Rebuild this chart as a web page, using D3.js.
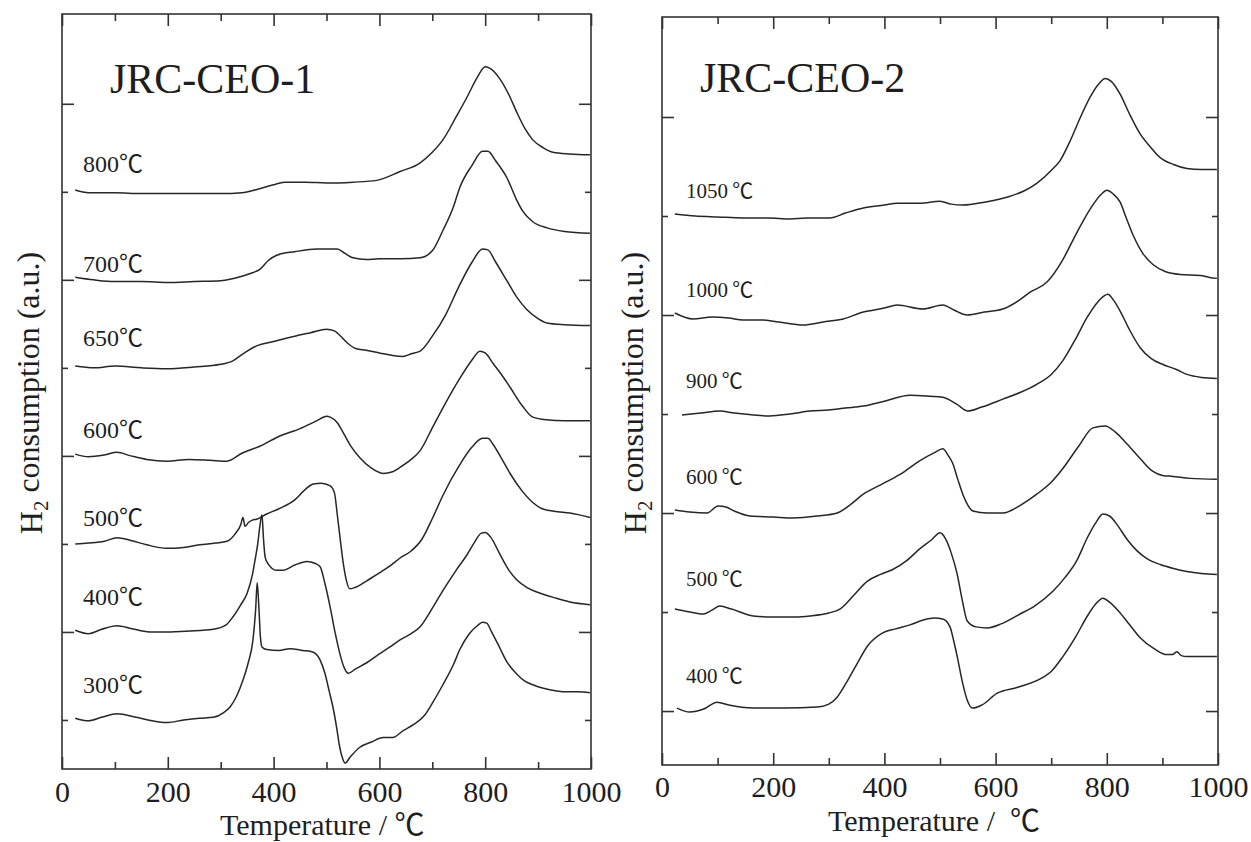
<!DOCTYPE html>
<meta charset="utf-8">
<script src="https://d3js.org/d3.v7.min.js"></script>
<style>
body { margin: 0; background: #fff; }
svg text { font-family: "Liberation Serif", "Noto Sans CJK JP", serif; fill: #1e1e1e; }
.frame { fill: none; stroke: #333; stroke-width: 1.6px; }
.tick line { stroke: #333; stroke-width: 1.6px; }
.trace { fill: none; stroke: #262626; stroke-width: 1.5px; stroke-linejoin: round; }
</style>
<body>
<svg id="svg" width="1251" height="842"></svg>
<script>
// x tick labels (both panels)
const xMajor = [0, 200, 400, 600, 800, 1000];
const xMinor = [100, 300, 500, 700, 900];

// JRC-CEO-1 : [temperature, offset above the trace's own baseline]
const ceo1Labels = ["300℃", "400℃", "500℃", "600℃", "650℃", "700℃", "800℃"];
const ceo1_300 = [[25,0.02],[50,-0.01],[75,0.03],[104,0.07],[140,0.03],[170,-0.01],[198,-0.03],[230,0.0],[260,0.02],[286,0.03],[305,0.08],[318,0.15],[330,0.27],[342,0.45],[352,0.65],[361,0.91],[366,1.25],[369,1.56],[372,1.3],[375,0.95],[378,0.83],[387,0.8],[410,0.79],[431,0.81],[455,0.79],[475,0.77],[488,0.68],[497,0.53],[505,0.33],[512,0.15],[519,-0.08],[525,-0.31],[530,-0.43],[535,-0.49],[545,-0.42],[563,-0.31],[585,-0.25],[607,-0.2],[625,-0.2],[645,-0.12],[665,-0.05],[685,0.05],[701,0.2],[720,0.4],[740,0.63],[752,0.8],[770,0.98],[785,1.07],[795,1.11],[803,1.1],[812,1.0],[825,0.85],[841,0.66],[860,0.52],[875,0.44],[890,0.4],[910,0.36],[935,0.33],[955,0.32],[975,0.32],[998,0.31]];
const ceo1_400 = [[25,0.02],[50,-0.02],[75,0.03],[104,0.07],[130,0.04],[165,0.0],[198,0.0],[240,0.01],[286,0.03],[310,0.08],[323,0.17],[337,0.3],[350,0.44],[360,0.65],[365,0.82],[370,1.0],[374,1.2],[378,1.33],[381,1.05],[384,0.85],[390,0.77],[405,0.7],[418,0.7],[440,0.76],[463,0.8],[478,0.78],[488,0.74],[497,0.55],[507,0.28],[516,0.0],[525,-0.24],[533,-0.4],[541,-0.47],[555,-0.42],[576,-0.35],[600,-0.25],[620,-0.17],[639,-0.09],[660,-0.02],[677,0.06],[701,0.28],[720,0.47],[745,0.7],[766,0.88],[780,1.02],[792,1.12],[800,1.13],[810,1.08],[828,0.88],[845,0.7],[860,0.59],[880,0.5],[904,0.44],[930,0.39],[960,0.34],[998,0.31]];
const ceo1_500 = [[25,0.0],[50,0.01],[80,0.03],[104,0.07],[130,0.04],[160,-0.01],[198,-0.05],[230,-0.04],[260,-0.01],[290,0.01],[312,0.03],[328,0.12],[338,0.22],[342,0.3],[346,0.2],[352,0.24],[360,0.27],[368,0.28],[387,0.34],[410,0.4],[440,0.5],[460,0.62],[475,0.68],[490,0.69],[507,0.66],[515,0.58],[521,0.3],[527,0.0],[531,-0.19],[537,-0.4],[544,-0.51],[560,-0.48],[576,-0.42],[600,-0.33],[620,-0.25],[639,-0.16],[660,-0.08],[680,0.05],[701,0.3],[720,0.55],[752,0.9],[775,1.1],[795,1.2],[805,1.2],[815,1.13],[830,0.98],[847,0.8],[870,0.6],[890,0.47],[904,0.41],[930,0.37],[960,0.35],[998,0.3]];
const ceo1_600 = [[25,0.02],[50,-0.01],[80,0.01],[104,0.04],[130,0.0],[160,-0.04],[198,-0.06],[240,-0.04],[280,-0.05],[312,-0.06],[340,0.03],[374,0.11],[410,0.22],[450,0.31],[482,0.4],[500,0.45],[507,0.44],[520,0.38],[531,0.27],[545,0.12],[563,-0.02],[585,-0.14],[607,-0.2],[625,-0.18],[639,-0.13],[660,-0.04],[677,0.06],[701,0.33],[725,0.6],[752,0.88],[775,1.09],[790,1.19],[800,1.17],[815,1.05],[830,0.93],[847,0.78],[870,0.57],[890,0.44],[915,0.41],[950,0.4],[998,0.4]];
const ceo1_650 = [[25,0.02],[60,0.0],[100,0.02],[150,0.0],[198,-0.01],[250,0.01],[300,0.04],[323,0.08],[345,0.17],[368,0.25],[400,0.3],[440,0.36],[470,0.4],[500,0.44],[515,0.42],[525,0.37],[540,0.28],[555,0.22],[575,0.2],[600,0.17],[625,0.14],[645,0.13],[660,0.16],[677,0.19],[700,0.36],[725,0.6],[750,0.92],[775,1.2],[795,1.35],[805,1.34],[820,1.2],[841,0.99],[860,0.8],[879,0.66],[900,0.56],[917,0.51],[950,0.49],[998,0.48]];
const ceo1_700 = [[25,0.03],[60,0.0],[100,-0.02],[150,-0.02],[200,-0.03],[250,-0.02],[300,-0.01],[340,0.04],[360,0.08],[374,0.12],[390,0.22],[406,0.28],[440,0.32],[482,0.35],[520,0.35],[535,0.3],[550,0.25],[575,0.23],[600,0.24],[640,0.24],[677,0.25],[700,0.33],[720,0.56],[740,0.83],[752,1.05],[775,1.3],[795,1.46],[805,1.46],[820,1.35],[841,1.16],[860,0.9],[871,0.78],[890,0.66],[917,0.59],[950,0.55],[998,0.53]];
const ceo1_800 = [[25,0.02],[50,-0.01],[100,-0.01],[150,-0.02],[200,-0.02],[250,-0.02],[300,-0.02],[340,-0.01],[370,0.03],[400,0.08],[420,0.11],[460,0.11],[500,0.1],[550,0.11],[595,0.13],[639,0.23],[677,0.33],[700,0.45],[720,0.59],[745,0.85],[766,1.08],[785,1.3],[800,1.42],[810,1.4],[828,1.28],[845,1.1],[860,0.9],[875,0.72],[890,0.59],[910,0.5],[928,0.45],[960,0.43],[998,0.42]];

// JRC-CEO-2
const ceo2Labels = ["400\u2009℃", "500\u2009℃", "600\u2009℃", "900\u2009℃", "1000\u2009℃", "1050\u2009℃"];
const ceo2_400 = [[27,0.03],[50,-0.01],[75,0.02],[99,0.09],[120,0.06],[164,0.03],[220,0.03],[279,0.04],[300,0.07],[315,0.14],[333,0.3],[351,0.48],[370,0.66],[397,0.79],[420,0.83],[446,0.87],[470,0.92],[490,0.94],[505,0.93],[518,0.85],[525,0.7],[531,0.55],[540,0.3],[549,0.11],[559,0.03],[575,0.06],[603,0.18],[640,0.24],[685,0.34],[700,0.4],[721,0.55],[745,0.76],[764,0.95],[780,1.08],[793,1.14],[805,1.1],[824,0.99],[840,0.88],[860,0.74],[885,0.63],[908,0.57],[918,0.57],[926,0.6],[934,0.56],[944,0.55],[970,0.55],[998,0.55]];
const ceo2_500 = [[23,0.03],[50,0.0],[74,-0.02],[90,0.02],[104,0.06],[125,0.03],[164,-0.04],[200,-0.05],[240,-0.05],[266,-0.04],[300,-0.01],[320,0.03],[345,0.17],[369,0.31],[393,0.38],[415,0.43],[440,0.52],[464,0.64],[485,0.73],[500,0.8],[510,0.74],[520,0.6],[531,0.38],[540,0.12],[549,-0.09],[565,-0.15],[585,-0.16],[610,-0.12],[644,-0.02],[670,0.06],[703,0.21],[725,0.35],[746,0.52],[765,0.75],[780,0.9],[793,0.99],[805,0.97],[820,0.87],[837,0.73],[854,0.62],[875,0.53],[896,0.48],[920,0.44],[944,0.41],[970,0.39],[998,0.38]];
const ceo2_600 = [[23,0.03],[50,0.01],[81,0.0],[101,0.07],[115,0.06],[130,0.02],[158,-0.03],[200,-0.04],[236,-0.05],[280,-0.03],[315,0.0],[340,0.09],[362,0.19],[395,0.29],[428,0.39],[464,0.53],[490,0.61],[505,0.65],[515,0.58],[523,0.5],[532,0.34],[541,0.19],[550,0.08],[559,0.02],[585,0.0],[613,0.0],[645,0.08],[674,0.19],[700,0.31],[721,0.45],[750,0.68],[775,0.86],[797,0.88],[815,0.82],[836,0.7],[860,0.55],[883,0.42],[900,0.38],[919,0.37],[950,0.35],[998,0.34]];
const ceo2_900 = [[36,-0.01],[70,0.01],[104,0.03],[130,0.01],[165,-0.01],[194,-0.02],[230,0.0],[266,0.03],[300,0.04],[330,0.06],[362,0.08],[400,0.13],[446,0.19],[482,0.18],[505,0.17],[530,0.1],[550,0.03],[575,0.07],[613,0.15],[645,0.22],[674,0.3],[700,0.4],[721,0.54],[745,0.77],[764,0.97],[785,1.14],[802,1.21],[812,1.15],[824,1.04],[840,0.86],[860,0.67],[880,0.56],[901,0.5],[925,0.45],[944,0.4],[970,0.37],[998,0.36]];
const ceo2_1000 = [[23,0.02],[56,-0.04],[90,-0.02],[120,-0.03],[146,-0.05],[180,-0.05],[210,-0.07],[254,-0.1],[290,-0.07],[326,-0.04],[362,0.03],[400,0.07],[423,0.1],[469,0.06],[505,0.1],[525,0.05],[549,0.0],[580,0.03],[613,0.06],[640,0.14],[662,0.23],[692,0.33],[720,0.55],[745,0.82],[770,1.07],[790,1.22],[800,1.26],[812,1.22],[824,1.14],[835,0.98],[847,0.81],[865,0.62],[883,0.51],[905,0.44],[932,0.41],[968,0.4],[985,0.38],[998,0.37]];
const ceo2_1050 = [[23,0.02],[60,0.0],[100,-0.01],[146,-0.02],[190,-0.02],[230,-0.03],[260,-0.02],[302,-0.02],[330,0.03],[362,0.08],[400,0.11],[423,0.13],[464,0.13],[500,0.15],[520,0.12],[541,0.11],[580,0.14],[626,0.2],[650,0.25],[674,0.33],[700,0.46],[716,0.56],[735,0.77],[752,0.99],[770,1.2],[785,1.33],[797,1.39],[808,1.36],[824,1.23],[840,1.04],[860,0.83],[878,0.7],[896,0.59],[920,0.52],[944,0.48],[970,0.47],[998,0.47]];

const panels = [
  { title: "JRC-CEO-1", labels: ceo1Labels,
    series: [ceo1_300, ceo1_400, ceo1_500, ceo1_600, ceo1_650, ceo1_700, ceo1_800],
    left: 62, right: 591, top: 14, bottom: 769, yDomain: [0.443, 9.02],
    yTicks: [1,2,3,4,5,6,7,8], longOdd: false,
    lift: [27, 27, 18, 18, 22, 8, 20], labelX: 83, labelSize: 24,
    titleX: 110, titleY: 93, tickPad: 12,
    xTitle: "Temperature / ℃", xTitleX: 220, xTitleY: 835, yTitleX: 42 },
  { title: "JRC-CEO-2", labels: ceo2Labels,
    series: [ceo2_400, ceo2_500, ceo2_600, ceo2_900, ceo2_1000, ceo2_1050],
    left: 662, right: 1218, top: 17, bottom: 765, yDomain: [0.455, 8.01],
    yTicks: [1,2,3,4,5,6,7], longOdd: true,
    lift: [28, 26, 29, 26, 18, 18], labelX: 686, labelSize: 21,
    titleX: 700, titleY: 92, tickPad: 11,
    xTitle: "Temperature /  ℃", xTitleX: 828, xTitleY: 831, yTitleX: 646 }
];

const svg = d3.select("#svg");

panels.forEach(function(p) {
  const x = d3.scaleLinear().domain([0, 1000]).range([p.left, p.right]);
  const y = d3.scaleLinear().domain(p.yDomain).range([p.bottom, p.top]);
  const g = svg.append("g");
  const w = p.right - p.left;

  // x ticks, bottom and top, pointing inward
  g.append("g").attr("transform", "translate(0," + p.bottom + ")")
    .call(d3.axisBottom(x).tickValues(xMajor).tickSize(-12).tickPadding(p.tickPad).tickFormat(d3.format("d")))
    .call(a => a.selectAll("text").style("font-size", "30px").attr("fill", "#1e1e1e"));
  g.append("g").attr("transform", "translate(0," + p.bottom + ")")
    .call(d3.axisBottom(x).tickValues(xMinor).tickSize(-7).tickFormat(""));
  g.append("g").attr("transform", "translate(0," + p.top + ")")
    .call(d3.axisTop(x).tickValues(xMajor).tickSize(-12).tickFormat(""));
  g.append("g").attr("transform", "translate(0," + p.top + ")")
    .call(d3.axisTop(x).tickValues(xMinor).tickSize(-7).tickFormat(""));

  // y ticks, alternating long / short
  const longT = p.yTicks.filter(v => (v % 2 === 1) === p.longOdd);
  const shortT = p.yTicks.filter(v => (v % 2 === 1) !== p.longOdd);
  [[longT, -12], [shortT, -6]].forEach(function(t) {
    g.append("g").attr("transform", "translate(" + p.left + ",0)")
      .call(d3.axisLeft(y).tickValues(t[0]).tickSize(t[1]).tickFormat(""));
    g.append("g").attr("transform", "translate(" + p.right + ",0)")
      .call(d3.axisRight(y).tickValues(t[0]).tickSize(t[1]).tickFormat(""));
  });
  g.selectAll(".domain").remove();

  g.append("rect").attr("class", "frame")
    .attr("x", p.left).attr("y", p.top)
    .attr("width", w).attr("height", p.bottom - p.top);

  // traces, each lifted one tick above the previous
  p.series.forEach(function(s, i) {
    const base = i + 1;
    const line = d3.line()
      .curve(d3.curveMonotoneX)
      .x(d => x(d[0]))
      .y(d => y(base + d[1]));
    g.append("path").attr("class", "trace").attr("d", line(s));

    g.append("text")
      .attr("x", p.labelX)
      .attr("y", y(base) - p.lift[i])
      .style("font-size", p.labelSize + "px")
      .text(p.labels[i]);
  });

  g.append("text").attr("x", p.titleX).attr("y", p.titleY)
    .style("font-size", "42px").text(p.title);

  g.append("text").attr("x", p.xTitleX).attr("y", p.xTitleY)
    .style("font-size", "30px").style("white-space", "pre").text(p.xTitle);

  const yt = g.append("text")
    .attr("transform", "translate(" + p.yTitleX + "," + 393 + ") rotate(-90)")
    .attr("text-anchor", "middle")
    .style("font-size", "32px");
  yt.append("tspan").text("H");
  yt.append("tspan").attr("dy", "0.3em").style("font-size", "21px").text("2");
  yt.append("tspan").attr("dy", "-0.3em").text(" consumption (a.u.)");
});
</script>
</body>
